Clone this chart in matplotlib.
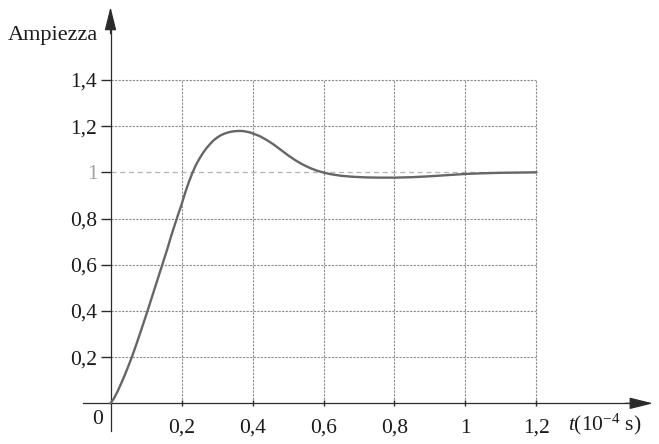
import matplotlib
matplotlib.use("Agg")
import matplotlib.pyplot as plt

# valori (t in 1e-4 s)
t = [0, 0.01, 0.02, 0.03, 0.04, 0.05, 0.06, 0.07, 0.08, 0.09, 0.10, 0.11,
     0.12, 0.13, 0.14, 0.15, 0.16, 0.17, 0.18, 0.19, 0.20, 0.21, 0.22, 0.23,
     0.24, 0.25, 0.26, 0.27, 0.28, 0.29, 0.30, 0.31, 0.32, 0.33, 0.34, 0.35,
     0.36, 0.37, 0.38, 0.39, 0.40, 0.42, 0.44, 0.46, 0.48, 0.50, 0.52, 0.54,
     0.56, 0.58, 0.60, 0.62, 0.65, 0.68, 0.72, 0.76, 0.80, 0.85, 0.90, 0.95,
     1.00, 1.05, 1.10, 1.15, 1.20]
ampiezza = [0, 0.022, 0.052, 0.086, 0.122, 0.16, 0.2, 0.243, 0.288, 0.334,
            0.38, 0.428, 0.476, 0.524, 0.572, 0.62, 0.668, 0.72, 0.768, 0.815,
            0.86, 0.91, 0.955, 0.995, 1.03, 1.058, 1.083, 1.104, 1.122, 1.138,
            1.15, 1.16, 1.167, 1.172, 1.176, 1.178, 1.179, 1.179, 1.177, 1.174,
            1.169, 1.157, 1.14, 1.12, 1.097, 1.074, 1.053, 1.035, 1.02, 1.008,
            0.999, 0.992, 0.985, 0.981, 0.978, 0.977, 0.977, 0.979, 0.983,
            0.988, 0.993, 0.996, 0.998, 0.999, 1.0]

x_ticks = [0.2, 0.4, 0.6, 0.8, 1.0, 1.2]
x_labels = ["0,2", "0,4", "0,6", "0,8", "1", "1,2"]
y_ticks = [0.2, 0.4, 0.6, 0.8, 1.0, 1.2, 1.4]
y_labels = ["0,2", "0,4", "0,6", "0,8", "1", "1,2", "1,4"]

plt.rcParams["font.family"] = ["Liberation Serif", "DejaVu Serif"]
plt.rcParams["mathtext.fontset"] = "custom"
plt.rcParams["mathtext.rm"] = "Liberation Serif"
plt.rcParams["mathtext.it"] = "Liberation Serif:italic"

fig = plt.figure(figsize=(6.59, 4.44), dpi=100)
ax = fig.add_axes([0, 0, 1, 1])
ax.set_xlim(-0.3113, 1.5451)
ax.set_ylim(-0.176, 1.746)

axis_col = "#2b2b2b"
grid_col = "#8c8c8c"

# griglia tratteggiata (la linea a 1 più chiara e a tratti lunghi)
for yv in y_ticks:
    if yv == 1.0:
        ax.hlines(yv, 0, x_ticks[-1], color="#b3b3b3", lw=0.9,
                  linestyles=(0, (4, 3)), zorder=1)
    else:
        ax.hlines(yv, 0, x_ticks[-1], color=grid_col, lw=0.8,
                  linestyles=(0, (2, 1.2)), zorder=1)
ax.vlines(x_ticks, 0, y_ticks[-1], color=grid_col, lw=0.8,
          linestyles=(0, (2, 1.2)), zorder=1)

ax.plot(t, ampiezza, color="#666666", lw=1.7, zorder=3,
        solid_capstyle="round", solid_joinstyle="round")

# assi con frecce
for s in ["top", "right"]:
    ax.spines[s].set_visible(False)
ax.spines["left"].set_position(("data", 0))
ax.spines["bottom"].set_position(("data", 0))
ax.spines["left"].set_bounds(-0.12, 1.62)
ax.spines["bottom"].set_bounds(-0.077, 1.47)
for s in ["left", "bottom"]:
    ax.spines[s].set_color(axis_col)
    ax.spines[s].set_linewidth(0.9)
arrow = dict(arrowstyle="-|>,head_length=1.45,head_width=0.36",
             mutation_scale=10, color=axis_col, lw=0.9, shrinkA=0, shrinkB=0)
ax.annotate("", xy=(0, 1.716), xytext=(0, 1.6), arrowprops=arrow)
ax.annotate("", xy=(1.528, 0), xytext=(1.45, 0), arrowprops=arrow)

ax.set_xticks(x_ticks)
ax.set_xticklabels(x_labels, fontsize=15.5)
ax.set_yticks(y_ticks)
ax.set_yticklabels(y_labels, fontsize=15.5)
ax.tick_params(axis="y", direction="out", length=7, width=1, color=axis_col,
               pad=2.5, labelcolor="#1a1a1a")
ax.tick_params(axis="x", direction="inout", length=5, width=1, color=axis_col,
               pad=8.5, labelcolor="#1a1a1a")
i1 = y_ticks.index(1.0)
ax.get_yticklabels()[i1].set_color("#a0a0a0")
ax.yaxis.get_major_ticks()[i1].tick1line.set_color("#a0a0a0")

ax.text(-0.037, -0.07, "0", fontsize=15.5, ha="center", va="center",
        color="#1a1a1a")
ax.text(-0.035, 1.594, "Ampiezza", fontsize=16, ha="right", va="center",
        color="#1a1a1a")
ax.text(1.289, -0.089, "$t$(10$^{-4}$ s)", fontsize=15.5, ha="left",
        va="center", color="#1a1a1a")

fig.savefig("out.png", dpi=100)
